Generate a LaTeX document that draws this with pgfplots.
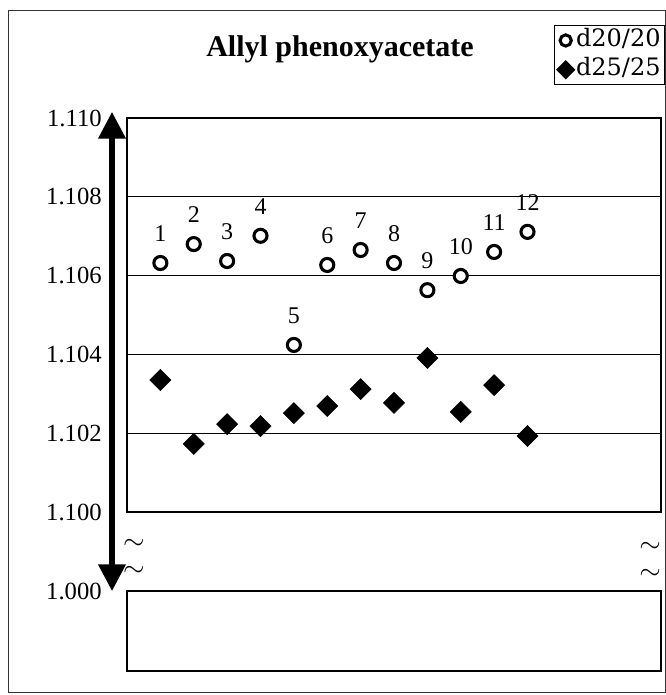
\documentclass[border=0pt]{standalone}
\usepackage{fontspec}
\setmainfont{Liberation Serif}
\newfontfamily\legfont{DejaVu Serif}
\usepackage{pgfplots}
\pgfplotsset{compat=1.18}
\usepackage{pgfplotstable}
\usetikzlibrary{arrows.meta}

\pgfplotsset{
  legcirc/.style={legend image code/.code={\draw[##1, mark size=4.2pt] plot coordinates {(0.1cm,0cm)};}},
  legdiam/.style={legend image code/.code={\draw[##1, mark size=4.8pt] plot coordinates {(0.1cm,0cm)};}},
}

\pgfplotstableread{
x y lab
1 1.10632 1
2 1.10680 2
3 1.10637 3
4 1.10701 4
5 1.10424 5
6 1.10627 6
7 1.10665 7
8 1.10632 8
9 1.10563 9
10 1.10599 10
11 1.10660 11
12 1.10711 12
}\dtwenty

\pgfplotstableread{
x y
1 1.10335
2 1.10173
3 1.10223
4 1.10218
5 1.10251
6 1.10269
7 1.10312
8 1.10277
9 1.10391
10 1.10254
11 1.10322
12 1.10193
}\dtwentyfive

\begin{document}
\begin{tikzpicture}[x=0.75pt,y=0.75pt]
\useasboundingbox (0,0) rectangle (666,695);
% outer frame
\draw[line width=0.6pt, black!80] (8,3) rectangle (665,685);
% title
\node[anchor=base, inner sep=0pt, font=\fontsize{22.5}{24}\selectfont\bfseries] at (340,638) {Allyl phenoxyacetate};

\begin{axis}[
  at={(95.25pt,137.25pt)}, anchor=south west,
  scale only axis, width=400.5pt, height=295.5pt,
  xmin=0, xmax=16, ymin=1.100, ymax=1.110,
  xtick=\empty,
  ytick={1.100,1.102,1.104,1.106,1.108,1.110},
  ymajorgrids, grid style={line width=0.7pt, black},
  axis line style={line width=1pt},
  major tick length=0pt,
  /pgf/number format/assume math mode=true,
  yticklabel style={font=\fontsize{18.5}{20}\selectfont, inner sep=0pt, xshift=-18.75pt,
    /pgf/number format/.cd, fixed, fixed zerofill, precision=3},
  clip=false,
  legend style={at={(1.0075,1.235)}, anchor=north east, draw=black, line width=0.6pt,
    font=\legfont\fontsize{18}{20}\selectfont, inner xsep=2pt, inner ysep=1.5pt,
    row sep=3pt, nodes={inner sep=1pt, text height=13pt, text depth=4pt}},
  legend cell align=left,
]
\addplot[only marks, mark=*, mark size=4.9pt,
  mark options={draw=black, fill=white, line width=2.3pt},
  nodes near coords, point meta=explicit symbolic,
  every node near coord/.append style={anchor=center, yshift=22pt, font=\fontsize{18}{20}\selectfont, inner sep=0pt},
  legcirc]
  table[x=x, y=y, meta=lab] {\dtwenty};
\addlegendentry{d20/20}
\addplot[only marks, mark=square*, mark size=5.6pt,
  mark options={draw=black, fill=black, rotate=45},
  legdiam]
  table[x=x, y=y] {\dtwentyfive};
\addlegendentry{d25/25}
\end{axis}

\begin{axis}[
  at={(95.25pt,18pt)}, anchor=south west,
  scale only axis, width=400.5pt, height=60pt,
  xmin=0, xmax=16, ymin=0.998, ymax=1.000,
  xtick=\empty, ytick={1.000},
  axis line style={line width=1pt},
  major tick length=0pt,
  /pgf/number format/assume math mode=true,
  yticklabel style={font=\fontsize{18.5}{20}\selectfont, inner sep=0pt, xshift=-18.75pt,
    /pgf/number format/.cd, fixed, fixed zerofill, precision=3},
]
\end{axis}

% double arrow
\draw[line width=3.8pt, -{Triangle[length=20pt,width=20pt]}] (112,400) -- (112,583);
\draw[line width=3.8pt, -{Triangle[length=20pt,width=20pt]}] (112,400) -- (112,104);
% break marks
\node[font=\fontsize{21}{22}\selectfont] at (134,151) {$\sim$};
\node[font=\fontsize{21}{22}\selectfont] at (134,124) {$\sim$};
\node[font=\fontsize{21}{22}\selectfont] at (650,148) {$\sim$};
\node[font=\fontsize{21}{22}\selectfont] at (650,121) {$\sim$};
\end{tikzpicture}
\end{document}
